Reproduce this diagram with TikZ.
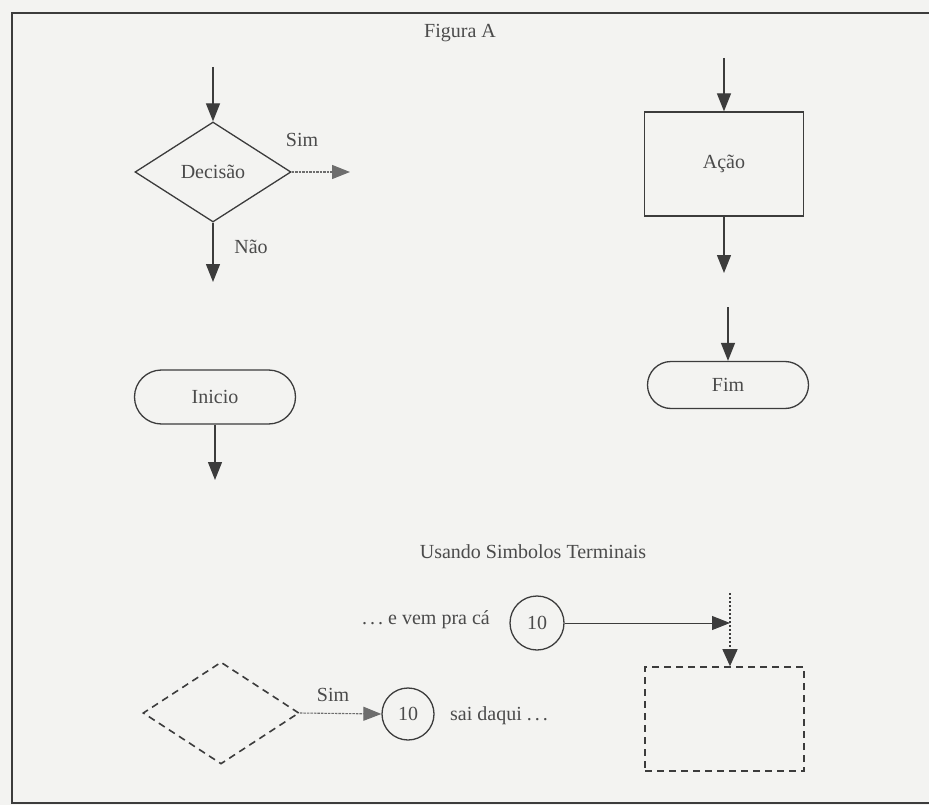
\documentclass[tikz,border=0pt]{standalone}
\usepackage{fontspec}
\setmainfont{Liberation Serif}
\usetikzlibrary{arrows.meta,shapes.geometric,shapes.misc}
\definecolor{paper}{RGB}{243,243,241}
\definecolor{ink}{RGB}{60,60,60}
\definecolor{txt}{RGB}{75,75,75}
\newcommand{\spdots}{.\kern3pt.\kern3pt.}
\tikzset{
  every node/.style={text=txt, font=\fontsize{20}{24}\selectfont, inner sep=0pt},
  conn/.style={draw=ink, line width=1.3pt, -{Triangle[length=18pt,width=14pt]}},
  faint/.style={draw=ink!75, line width=1.1pt, dash pattern=on 2.5pt off 1pt, -{Triangle[length=18pt,width=14pt]}},
  thinconn/.style={draw=ink, line width=1pt, -{Triangle[length=18pt,width=14pt]}},
  dotconn/.style={draw=ink, line width=1.4pt, dash pattern=on 2pt off 2pt, -{Triangle[length=17pt,width=15pt]}},
  decbox/.style={diamond, draw=ink, line width=1.3pt, minimum width=156pt, minimum height=100pt},
  actbox/.style={rectangle, draw=ink, line width=1.3pt, minimum width=159pt, minimum height=104pt},
  termbox/.style={rectangle, draw=ink, line width=1.3pt, minimum width=161pt, rounded corners=#1, minimum height=2*#1},
  conbox/.style={circle, draw=ink, line width=1.3pt, minimum size=#1},
  dashbox/.style={draw=ink, line width=1.6pt, dash pattern=on 7pt off 5pt},
}
\begin{document}
\begin{tikzpicture}[x=1pt,y=-1pt]
\fill[paper] (0,0) rectangle (929,805);
\useasboundingbox (0,0) rectangle (929,805);
% frame
\draw[ink, line width=2.2pt] (929,13) -- (12,13) -- (12,803) -- (929,803);
\node (title) at (460,33) {Figura A};

% decision
\coordinate (dtop) at (213,67);
\node[decbox] (dec) at (213,172) {Decisão};
\draw[conn] (dtop) -- (dec.north);
\node (sim1) at (302,140) {Sim};
\coordinate (simend) at (350,172);
\draw[faint] (dec.east) -- (simend);
\node (nao) at (251,247) {Não};
\coordinate (naoend) at (213,282);
\draw[conn] (dec.south) -- (naoend);

% inicio
\node[termbox=27pt] (ini) at (215,397) {Inicio};
\coordinate (iniend) at (215,480);
\draw[conn] (ini.south) -- (iniend);

% acao
\coordinate (atop) at (724,58);
\node[actbox] (acao) at (724,164) {Ação};
\draw[conn] (atop) -- (acao.north);
\coordinate (aend) at (724,273);
\draw[conn] (acao.south) -- (aend);

% fim
\coordinate (ftop) at (728,307);
\node[termbox=23.5pt] (fim) at (728,385) {Fim};
\draw[conn] (ftop) -- (fim.north);

% terminal symbols
\node (sub) at (533,552) {Usando Simbolos Terminais};
\node[anchor=east] (evem) at (490,620) {\spdots\ e vem pra cá};
\node[conbox=54pt] (c1) at (537,623) {10};
\coordinate (ptip) at (730,623);
\draw[thinconn] (c1.east) -- (ptip);
\node[dashbox, minimum width=159pt, minimum height=104pt] (drect) at (724.5,719) {};
\coordinate (vtop) at (730,593);
\draw[dotconn] (vtop) -- (vtop |- drect.north);

\node[diamond, dashbox, minimum width=156pt, minimum height=102pt] (ddec) at (221,713) {};
\node (sim2) at (333,695) {Sim};
\node[conbox=52pt] (c2) at (408,714) {10};
\draw[faint] (ddec.east) -- (c2.west);
\node[anchor=west] (sai) at (450,716) {sai daqui \spdots};
\end{tikzpicture}
\end{document}
